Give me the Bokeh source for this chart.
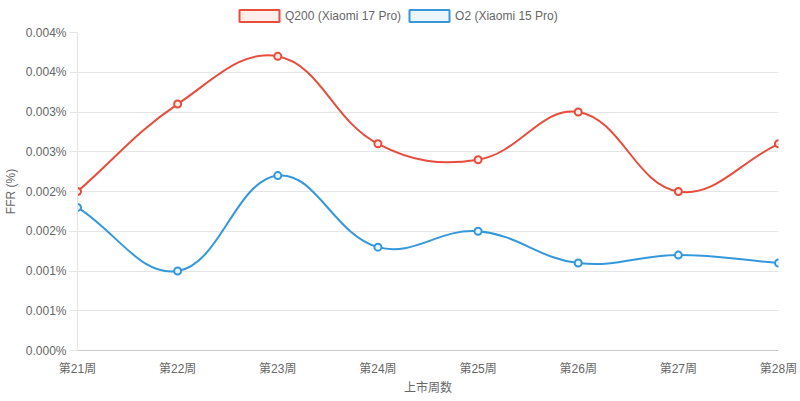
import math
from bokeh.plotting import figure
from bokeh.layouts import column
from bokeh.models import Range1d, FixedTicker, Legend, LegendItem, ColumnDataSource
from bokeh.embed import file_html
from bokeh.resources import INLINE

weeks = ["第21周", "第22周", "第23周", "第24周", "第25周", "第26周", "第27周", "第28周"]
q200 = [0.0020, 0.0031, 0.0037, 0.0026, 0.0024, 0.0030, 0.0020, 0.0026]
o2 = [0.0018, 0.0010, 0.0022, 0.0013, 0.0015, 0.0011, 0.0012, 0.0011]
y_ticks = [0.0, 0.0005, 0.001, 0.0015, 0.002, 0.0025, 0.003, 0.0035, 0.004]
y_tick_labels = ["0.000%", "0.001%", "0.001%", "0.002%", "0.002%", "0.003%", "0.003%", "0.004%", "0.004%"]
series_names = ["Q200 (Xiaomi 17 Pro)", "O2 (Xiaomi 15 Pro)"]
colors = ["#e74c3c", "#3498db"]
fills = ["#fdedeb", "#ebf5fb"]

FONT = '"Liberation Sans", "Noto Sans CJK SC", sans-serif'

W = 800
TOP_H = 24
H = 401 - TOP_H
ML, MR, MT, MB = 77, 22, 8, 51
FW, FH = W - ML - MR, H - MT - MB
YMAX = 0.004
XMAX = len(weeks) - 1

# ---- legend strip ----
lg = figure(width=W, height=TOP_H, output_backend="svg", toolbar_location=None,
            x_range=Range1d(0, 1), y_range=Range1d(0, 1),
            x_axis_location=None, y_axis_location=None,
            min_border_left=0, min_border_right=0, min_border_top=0, min_border_bottom=0,
            background_fill_color="white", border_fill_color="white", outline_line_color=None)
lg.xgrid.visible = False
lg.ygrid.visible = False

# ---- main chart ----
p = figure(width=W, height=H, output_backend="svg", toolbar_location=None,
           x_range=Range1d(0, XMAX), y_range=Range1d(0, YMAX),
           min_border_left=ML, min_border_right=MR, min_border_top=MT, min_border_bottom=MB,
           background_fill_color="white", border_fill_color="white", outline_line_color=None)


def spline(vals, t=0.4):
    sx = FW / XMAX
    sy = FH / YMAX
    pts = [(i * sx, v * sy) for i, v in enumerate(vals)]
    n = len(pts)
    cps = []
    for i in range(n):
        prev = pts[i - 1] if i > 0 else pts[i]
        cur = pts[i]
        nxt = pts[i + 1] if i < n - 1 else pts[i]
        d01 = math.hypot(cur[0] - prev[0], cur[1] - prev[1])
        d12 = math.hypot(nxt[0] - cur[0], nxt[1] - cur[1])
        tot = d01 + d12
        s01 = d01 / tot if tot else 0
        s12 = d12 / tot if tot else 0
        fa, fb = t * s01, t * s12
        cp_prev = (cur[0] - fa * (nxt[0] - prev[0]), cur[1] - fa * (nxt[1] - prev[1]))
        cp_next = (cur[0] + fb * (nxt[0] - prev[0]), cur[1] + fb * (nxt[1] - prev[1]))
        cps.append((cp_prev, cp_next))
    d = dict(x0=[], y0=[], x1=[], y1=[], cx0=[], cy0=[], cx1=[], cy1=[])
    for i in range(n - 1):
        d["x0"].append(pts[i][0] / sx); d["y0"].append(pts[i][1] / sy)
        d["x1"].append(pts[i + 1][0] / sx); d["y1"].append(pts[i + 1][1] / sy)
        c0 = cps[i][1]; c1 = cps[i + 1][0]
        d["cx0"].append(c0[0] / sx); d["cy0"].append(min(max(c0[1], 0), FH) / sy)
        d["cx1"].append(c1[0] / sx); d["cy1"].append(min(max(c1[1], 0), FH) / sy)
    return ColumnDataSource(d)


xs = list(range(len(weeks)))
items = []
for name, vals, c, f in zip(series_names, [q200, o2], colors, fills):
    src = spline(vals)
    p.bezier(x0="x0", y0="y0", x1="x1", y1="y1", cx0="cx0", cy0="cy0", cx1="cx1", cy1="cy1",
             source=src, line_color=c, line_width=2)
    p.scatter(xs, vals, size=7, marker="circle", fill_color=f, line_color=c, line_width=2)
    # legend swatch only (NaN position: nothing drawn in the strip itself)
    dummy = lg.rect(x=[float("nan")], y=[float("nan")], width=1, height=1,
                    fill_color=f, line_color=c, line_width=2)
    items.append(LegendItem(label=name, renderers=[dummy]))

legend = Legend(items=items, orientation="horizontal", location=(157, 1),
                glyph_width=50, glyph_height=15, label_text_font=FONT, label_text_font_size="12px",
                label_text_color="#666666", spacing=3, label_standoff=1, padding=0, margin=0,
                border_line_color=None, background_fill_alpha=0, label_height=15)
lg.add_layout(legend, "center")

# axes
p.xaxis.ticker = FixedTicker(ticks=xs)
p.xaxis.major_label_overrides = {i: w for i, w in enumerate(weeks)}
p.xaxis.major_tick_line_color = None
p.xaxis.major_tick_out = 0
p.xaxis.major_tick_in = 0
p.xaxis.minor_tick_line_color = None
p.xaxis.axis_line_color = "#cccccc"
p.xaxis.major_label_text_font = FONT
p.xaxis.major_label_text_font_size = "12px"
p.xaxis.major_label_text_color = "#666666"
p.xaxis.major_label_standoff = 11
p.xaxis.axis_label = "上市周数"
p.xaxis.axis_label_text_font = FONT
p.xaxis.axis_label_text_font_size = "12px"
p.xaxis.axis_label_text_font_style = "normal"
p.xaxis.axis_label_text_color = "#666666"
p.xaxis.axis_label_standoff = 2

p.yaxis.ticker = FixedTicker(ticks=y_ticks)
p.yaxis.major_label_overrides = {v: l for v, l in zip(y_ticks, y_tick_labels)}
p.yaxis.major_tick_line_color = "#e5e5e5"
p.yaxis.major_tick_out = 8
p.yaxis.major_tick_in = 0
p.yaxis.minor_tick_line_color = None
p.yaxis.axis_line_color = "#e5e5e5"
p.yaxis.major_label_text_font = FONT
p.yaxis.major_label_text_font_size = "12px"
p.yaxis.major_label_text_color = "#666666"
p.yaxis.major_label_standoff = 3
p.yaxis.axis_label = "FFR (%)"
p.yaxis.axis_label_text_font = FONT
p.yaxis.axis_label_text_font_size = "12px"
p.yaxis.axis_label_text_font_style = "normal"
p.yaxis.axis_label_text_color = "#666666"
p.yaxis.axis_label_standoff = 5

p.xgrid.grid_line_color = None
p.ygrid.grid_line_color = "#e5e5e5"
p.ygrid.grid_line_width = 1

page = column(lg, p, spacing=0)
open("out.html", "w").write(file_html(page, INLINE))
